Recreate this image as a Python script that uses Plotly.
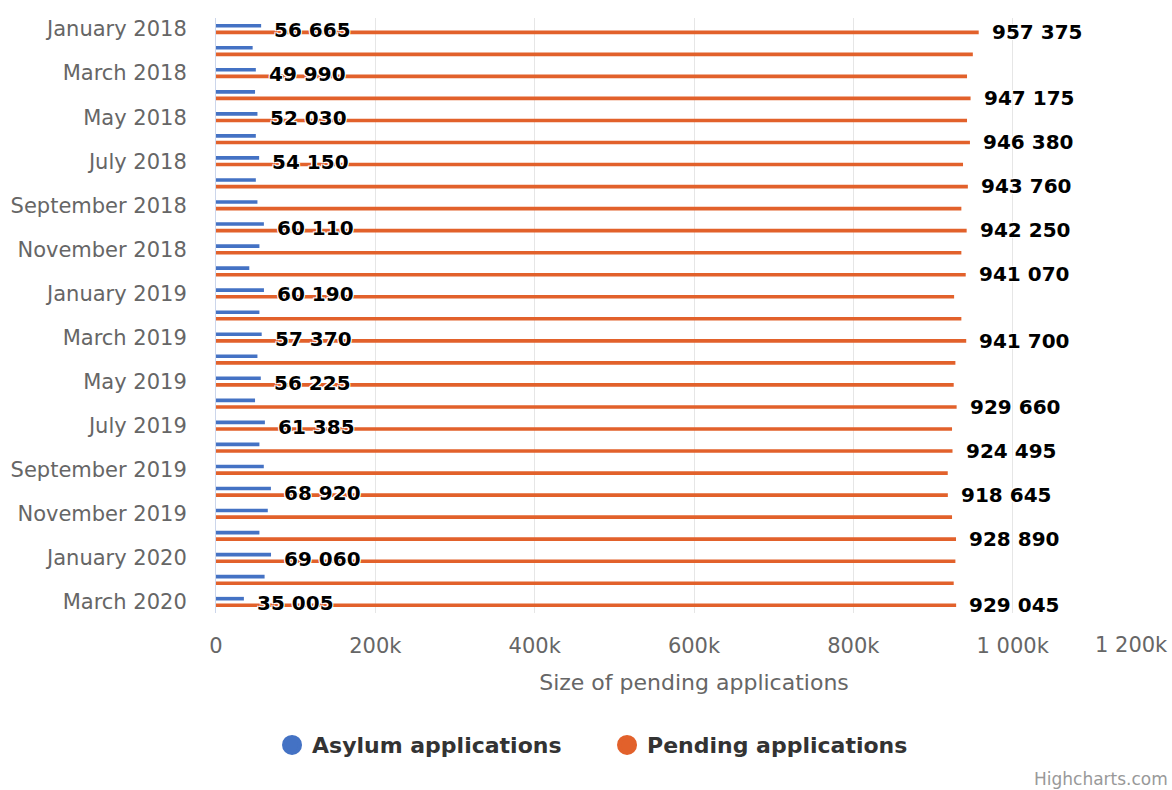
import plotly.graph_objects as go

months = ["January", "February", "March", "April", "May", "June", "July",
          "August", "September", "October", "November", "December"]
categories = [f"{months[(i) % 12]} {2018 + i // 12}" for i in range(27)]

asylum = [56665, 46000, 49990, 49000, 52030, 50000, 54150, 50000, 52000,
          60110, 54500, 41800, 60190, 54500, 57370, 52000, 56225, 49000,
          61385, 54500, 60000, 68920, 65000, 54500, 69060, 61000, 35005]
pending = [957375, 950000, 942700, 947175, 942700, 946380, 937700, 943760,
           935600, 942250, 935600, 941070, 926500, 935600, 941700, 928100,
           926000, 929660, 923900, 924495, 918500, 918645, 923900, 928890,
           928100, 926000, 929045]

# indices of bars whose data labels are visible (others hidden by overlap)
asylum_labelled = [0, 2, 4, 6, 9, 12, 14, 16, 18, 21, 24, 26]
pending_labelled = [0, 3, 5, 7, 9, 11, 14, 17, 19, 21, 23, 26]

x_ticks = [0, 200000, 400000, 600000, 800000, 1000000, 1200000]
x_ticktext = ["0", "200k", "400k", "600k", "800k", "1 000k", ""]
last_tick_text = "1 200k"

BLUE = "#4472c4"
ORANGE = "#e2612b"
GREY = "#666666"
FONT = "DejaVu Sans"


def fmt(v):
    return f"{v:,}".replace(",", " ")


fig = go.Figure()
fig.add_trace(go.Bar(y=categories, x=asylum, orientation="h", name="Asylum applications",
                     marker=dict(color=BLUE, line=dict(width=0)), showlegend=False,
                     hoverinfo="x+y"))
fig.add_trace(go.Bar(y=categories, x=pending, orientation="h", name="Pending applications",
                     marker=dict(color=ORANGE, line=dict(width=0)), showlegend=False,
                     hoverinfo="x+y"))
# legend entries with circular symbols
fig.add_trace(go.Scatter(x=[None], y=[None], mode="markers", name="Asylum applications",
                         marker=dict(color=BLUE, size=16, symbol="circle",
                                     line=dict(color=BLUE, width=4))))
fig.add_trace(go.Scatter(x=[None], y=[None], mode="markers", name="Pending applications",
                         marker=dict(color=ORANGE, size=16, symbol="circle",
                                     line=dict(color=ORANGE, width=4))))

annotations = []
label_font = dict(family=FONT, size=20, color="#000000",
                  shadow="1px 1px 0 #fff, -1px -1px 0 #fff, 1px -1px 0 #fff, -1px 1px 0 #fff")
for i in asylum_labelled:
    annotations.append(dict(x=asylum[i], y=categories[i], xref="x", yref="y",
                            text=f"<b>{fmt(asylum[i])}</b>", showarrow=False,
                            xanchor="left", yanchor="middle", xshift=11, yshift=-1,
                            font=label_font))
for i in pending_labelled:
    annotations.append(dict(x=pending[i], y=categories[i], xref="x", yref="y",
                            text=f"<b>{fmt(pending[i])}</b>", showarrow=False,
                            xanchor="left", yanchor="middle", xshift=11, yshift=-3,
                            font=label_font))
# last x tick label kept inside the chart (right aligned)
annotations.append(dict(x=x_ticks[-1], y=0, xref="x", yref="paper", text=last_tick_text,
                        showarrow=False, xanchor="right", yanchor="middle", xshift=-2, yshift=-32,
                        font=dict(family=FONT, size=21, color=GREY)))
annotations.append(dict(x=1, y=0, xref="paper", yref="paper", text="Highcharts.com",
                        showarrow=False, xanchor="right", yanchor="middle",
                        xshift=-2, yshift=-166,
                        font=dict(family=FONT, size=17, color="#999999")))

fig.update_layout(
    width=1172, height=790,
    margin=dict(l=216, r=0, t=18, b=177, autoexpand=False),
    paper_bgcolor="white", plot_bgcolor="white",
    barmode="group", bargap=0.4, bargroupgap=0.45,
    font=dict(family=FONT, color=GREY),
    xaxis=dict(range=[0, 1200000], tickvals=x_ticks, ticktext=x_ticktext,
               automargin=False,
               showgrid=True, gridcolor="#e6e6e6", gridwidth=1, zeroline=False,
               showline=False, ticks="", ticklen=0, ticklabelstandoff=18,
               tickfont=dict(family=FONT, size=21, color=GREY),
               title=dict(text="Size of pending applications", standoff=17,
                          font=dict(family=FONT, size=22, color=GREY))),
    yaxis=dict(type="category", categoryorder="array", categoryarray=categories,
               range=[len(categories) - 0.5, -0.5], tickvals=categories[::2],
               ticktext=categories[::2], automargin=False,
               showgrid=False, showline=True, linecolor="#ccd6eb", linewidth=1,
               ticks="", ticklabelstandoff=24,
               tickfont=dict(family=FONT, size=21, color=GREY)),
    legend=dict(orientation="h", x=0.0586, xanchor="left", y=-0.222, yanchor="middle",
                font=dict(family=FONT, size=22, color="#333333", weight="bold"),
                itemsizing="trace", traceorder="normal", entrywidth=290),
    annotations=annotations,
)

fig.write_html("out.html")
